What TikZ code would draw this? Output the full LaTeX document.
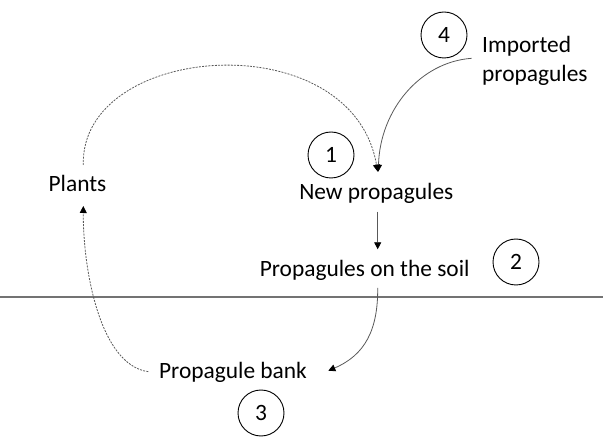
\documentclass[tikz,border=0pt]{standalone}
\usepackage{fontspec}
\setmainfont{Carlito}
\usetikzlibrary{arrows.meta}
\begin{document}
\begin{tikzpicture}[x=1pt,y=-1pt,
  label/.style={inner sep=0pt, anchor=base, font=\fontsize{23.4}{28.5}\selectfont, text=black},
  stage/.style={draw=black, line width=0.9pt, circle, minimum size=46pt, inner sep=0pt,
    font=\fontsize{23.4}{28.5}\selectfont},
  flow/.style={draw=black!65, line width=0.8pt, -{Triangle[length=7pt,width=7pt,color=black]}},
  weak/.style={flow, dash pattern=on 2pt off 1.2pt},
  ground/.style={draw=black!55, line width=1.1pt}]
\useasboundingbox (0,0) rectangle (603,438);

% soil surface
\coordinate (gl) at (0,297);
\coordinate (gr) at (603,297);
\draw[ground] (gl) -- (gr);

% labels of the compartments
\node[label] (plants) at (77.5,191.7) {Plants};
\node[label] (new) at (376.3,200) {New propagules};
\node[label] (soil) at (364.7,276.7) {Propagules on the soil};
\node[label] (bank) at (233,378.3) {Propagule bank};
% two-line label: base anchor sits on the last line
\node[label, anchor=base west, align=left] (imp) at (482,81.5) {Imported\\propagules};

% numbered stages
\node[stage] (s1) at (331,155) {1};
\node[stage] (s2) at (516,262) {2};
\node[stage] (s3) at (261,413) {3};
\node[stage] (s4) at (444,35) {4};

% flows between compartments
\draw[weak] ([shift={(5.8,-26.7)}]plants.base)
  .. controls (80,42) and (352,22) .. ([shift={(1.4,-28.3)}]new.base);
\draw[flow] ([shift={(-10.3,-23.2)}]imp.base west)
  .. controls (420,62) and (380,110) .. ([shift={(2,-28.3)}]new.base);
\draw[flow] ([shift={(1.4,11.7)}]new.base) -- ([shift={(1.4,-27.4)}]new.base |- soil.base);
\draw[flow] ([shift={(13,11.3)}]soil.base)
  .. controls (378,330) and (365,355) .. ([shift={(95.3,-7.6)}]bank.base);
\draw[weak] ([shift={(-84.7,-6.6)}]bank.base)
  .. controls (100,365) and (83,270) .. ([shift={(5.8,14.3)}]plants.base);
\end{tikzpicture}
\end{document}
